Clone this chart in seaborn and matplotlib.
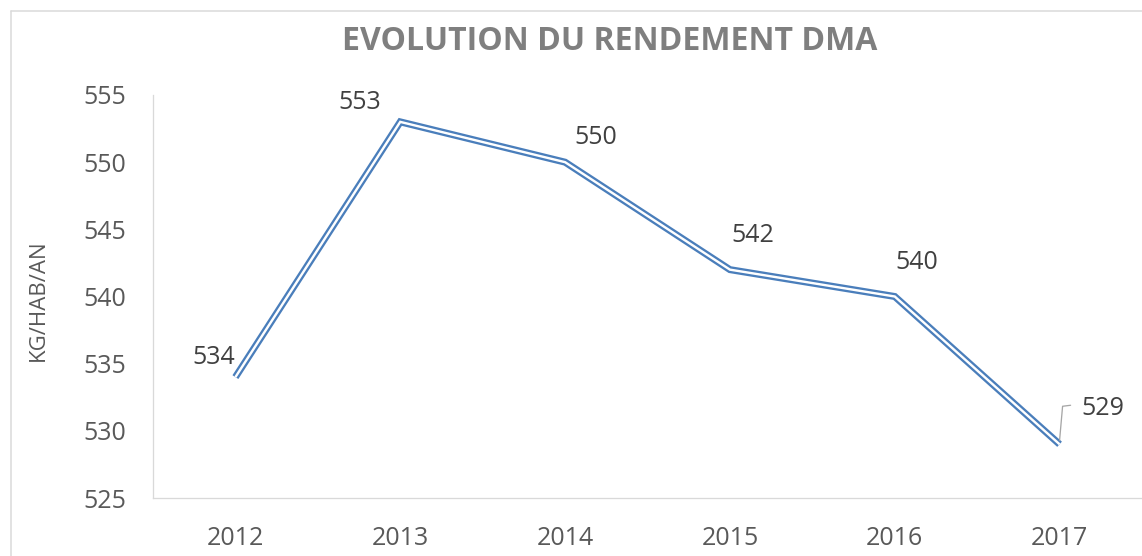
import matplotlib
matplotlib.use("Agg")
import matplotlib.pyplot as plt
from matplotlib.lines import Line2D
import numpy as np
import pandas as pd
import seaborn as sns

# Data
years = ["2012", "2013", "2014", "2015", "2016", "2017"]
rendement = [534, 553, 550, 542, 540, 529]
y_ticks = [525, 530, 535, 540, 545, 550, 555]

title = "EVOLUTION DU RENDEMENT DMA"
y_label = "KG/HAB/AN"

# Styling
BLUE = "#4a7ebb"
GRID = "#d9d9d9"
TICK_TXT = "#595959"
LABEL_TXT = "#404040"
TITLE_TXT = "#7f7f7f"

# pixel offsets of each value label from its point
label_offsets = [(-22, 20), (-41, 19), (31, 25), (23, 34), (22, 34), (43, 36)]

sns.set_theme(style="white")
plt.rcParams["font.family"] = ["Open Sans", "DejaVu Sans"]

W, H, DPI = 1142, 556, 100
fig = plt.figure(figsize=(W / DPI, H / DPI), dpi=DPI)
fig.patch.set_facecolor("white")

ax = fig.add_axes([153 / W, 58 / H, 1 - 153 / W, 403 / H])

df = pd.DataFrame({"pos": np.arange(len(years)), "rendement": rendement})

# compound (double) line: wide blue stroke with a thin white core
px = 72 / DPI
sns.lineplot(data=df, x="pos", y="rendement", ax=ax, color=BLUE,
             linewidth=7.0 * px, solid_joinstyle="miter", solid_capstyle="butt")
sns.lineplot(data=df, x="pos", y="rendement", ax=ax, color="white",
             linewidth=2.4 * px, solid_joinstyle="miter", solid_capstyle="butt")

ax.set_xlim(-0.5, len(years) - 0.5)
ax.set_ylim(y_ticks[0], y_ticks[-1])
ax.set_xticks(df["pos"])
ax.set_xticklabels(years)
ax.set_yticks(y_ticks)
ax.set_xlabel("")
ax.set_ylabel("")

for side in ["top", "right"]:
    ax.spines[side].set_visible(False)
for side in ["left", "bottom"]:
    ax.spines[side].set_color(GRID)
    ax.spines[side].set_linewidth(1.3 * px)

ax.tick_params(axis="y", which="both", direction="out", length=7 * px,
               width=1.3 * px, color=GRID, labelcolor=TICK_TXT,
               labelsize=18, pad=14)
ax.tick_params(axis="x", which="both", length=0, labelcolor=TICK_TXT,
               labelsize=18, pad=20)
ax.set_facecolor("white")

# value labels
for i, (v, (dx, dy)) in enumerate(zip(rendement, label_offsets)):
    ax.annotate(f"{v:d}", (i, v), xytext=(dx, dy), textcoords="offset pixels",
                ha="center", va="center", fontsize=18, color=LABEL_TXT)

# leader line for the last label
fig.canvas.draw()
p = ax.transData.transform((len(years) - 1, rendement[-1]))
leader = np.array([p + (0, 4), p + (3, 38), p + (11, 39)])
leader_data = ax.transData.inverted().transform(leader)
ax.plot(leader_data[:, 0], leader_data[:, 1], color="#a6a6a6",
        linewidth=1.3 * px, clip_on=False)

# title and axis label
fig.text(610 / W, 1 - 42 / H, title, ha="center", va="center",
         fontsize=23, fontweight="bold", color=TITLE_TXT)
fig.text(38 / W, 1 - 300 / H, y_label, ha="center", va="center",
         rotation=90, fontsize=16, color=TICK_TXT)

# chart-area border (top and left edges visible)
fig.add_artist(Line2D([10.5 / W, 1.0], [1 - 10.5 / H, 1 - 10.5 / H],
                      transform=fig.transFigure, color=GRID, linewidth=1.5 * px))
fig.add_artist(Line2D([10.5 / W, 10.5 / W], [0.0, 1 - 10.5 / H],
                      transform=fig.transFigure, color=GRID, linewidth=1.5 * px))

fig.savefig("out.png", dpi=DPI, facecolor="white")
